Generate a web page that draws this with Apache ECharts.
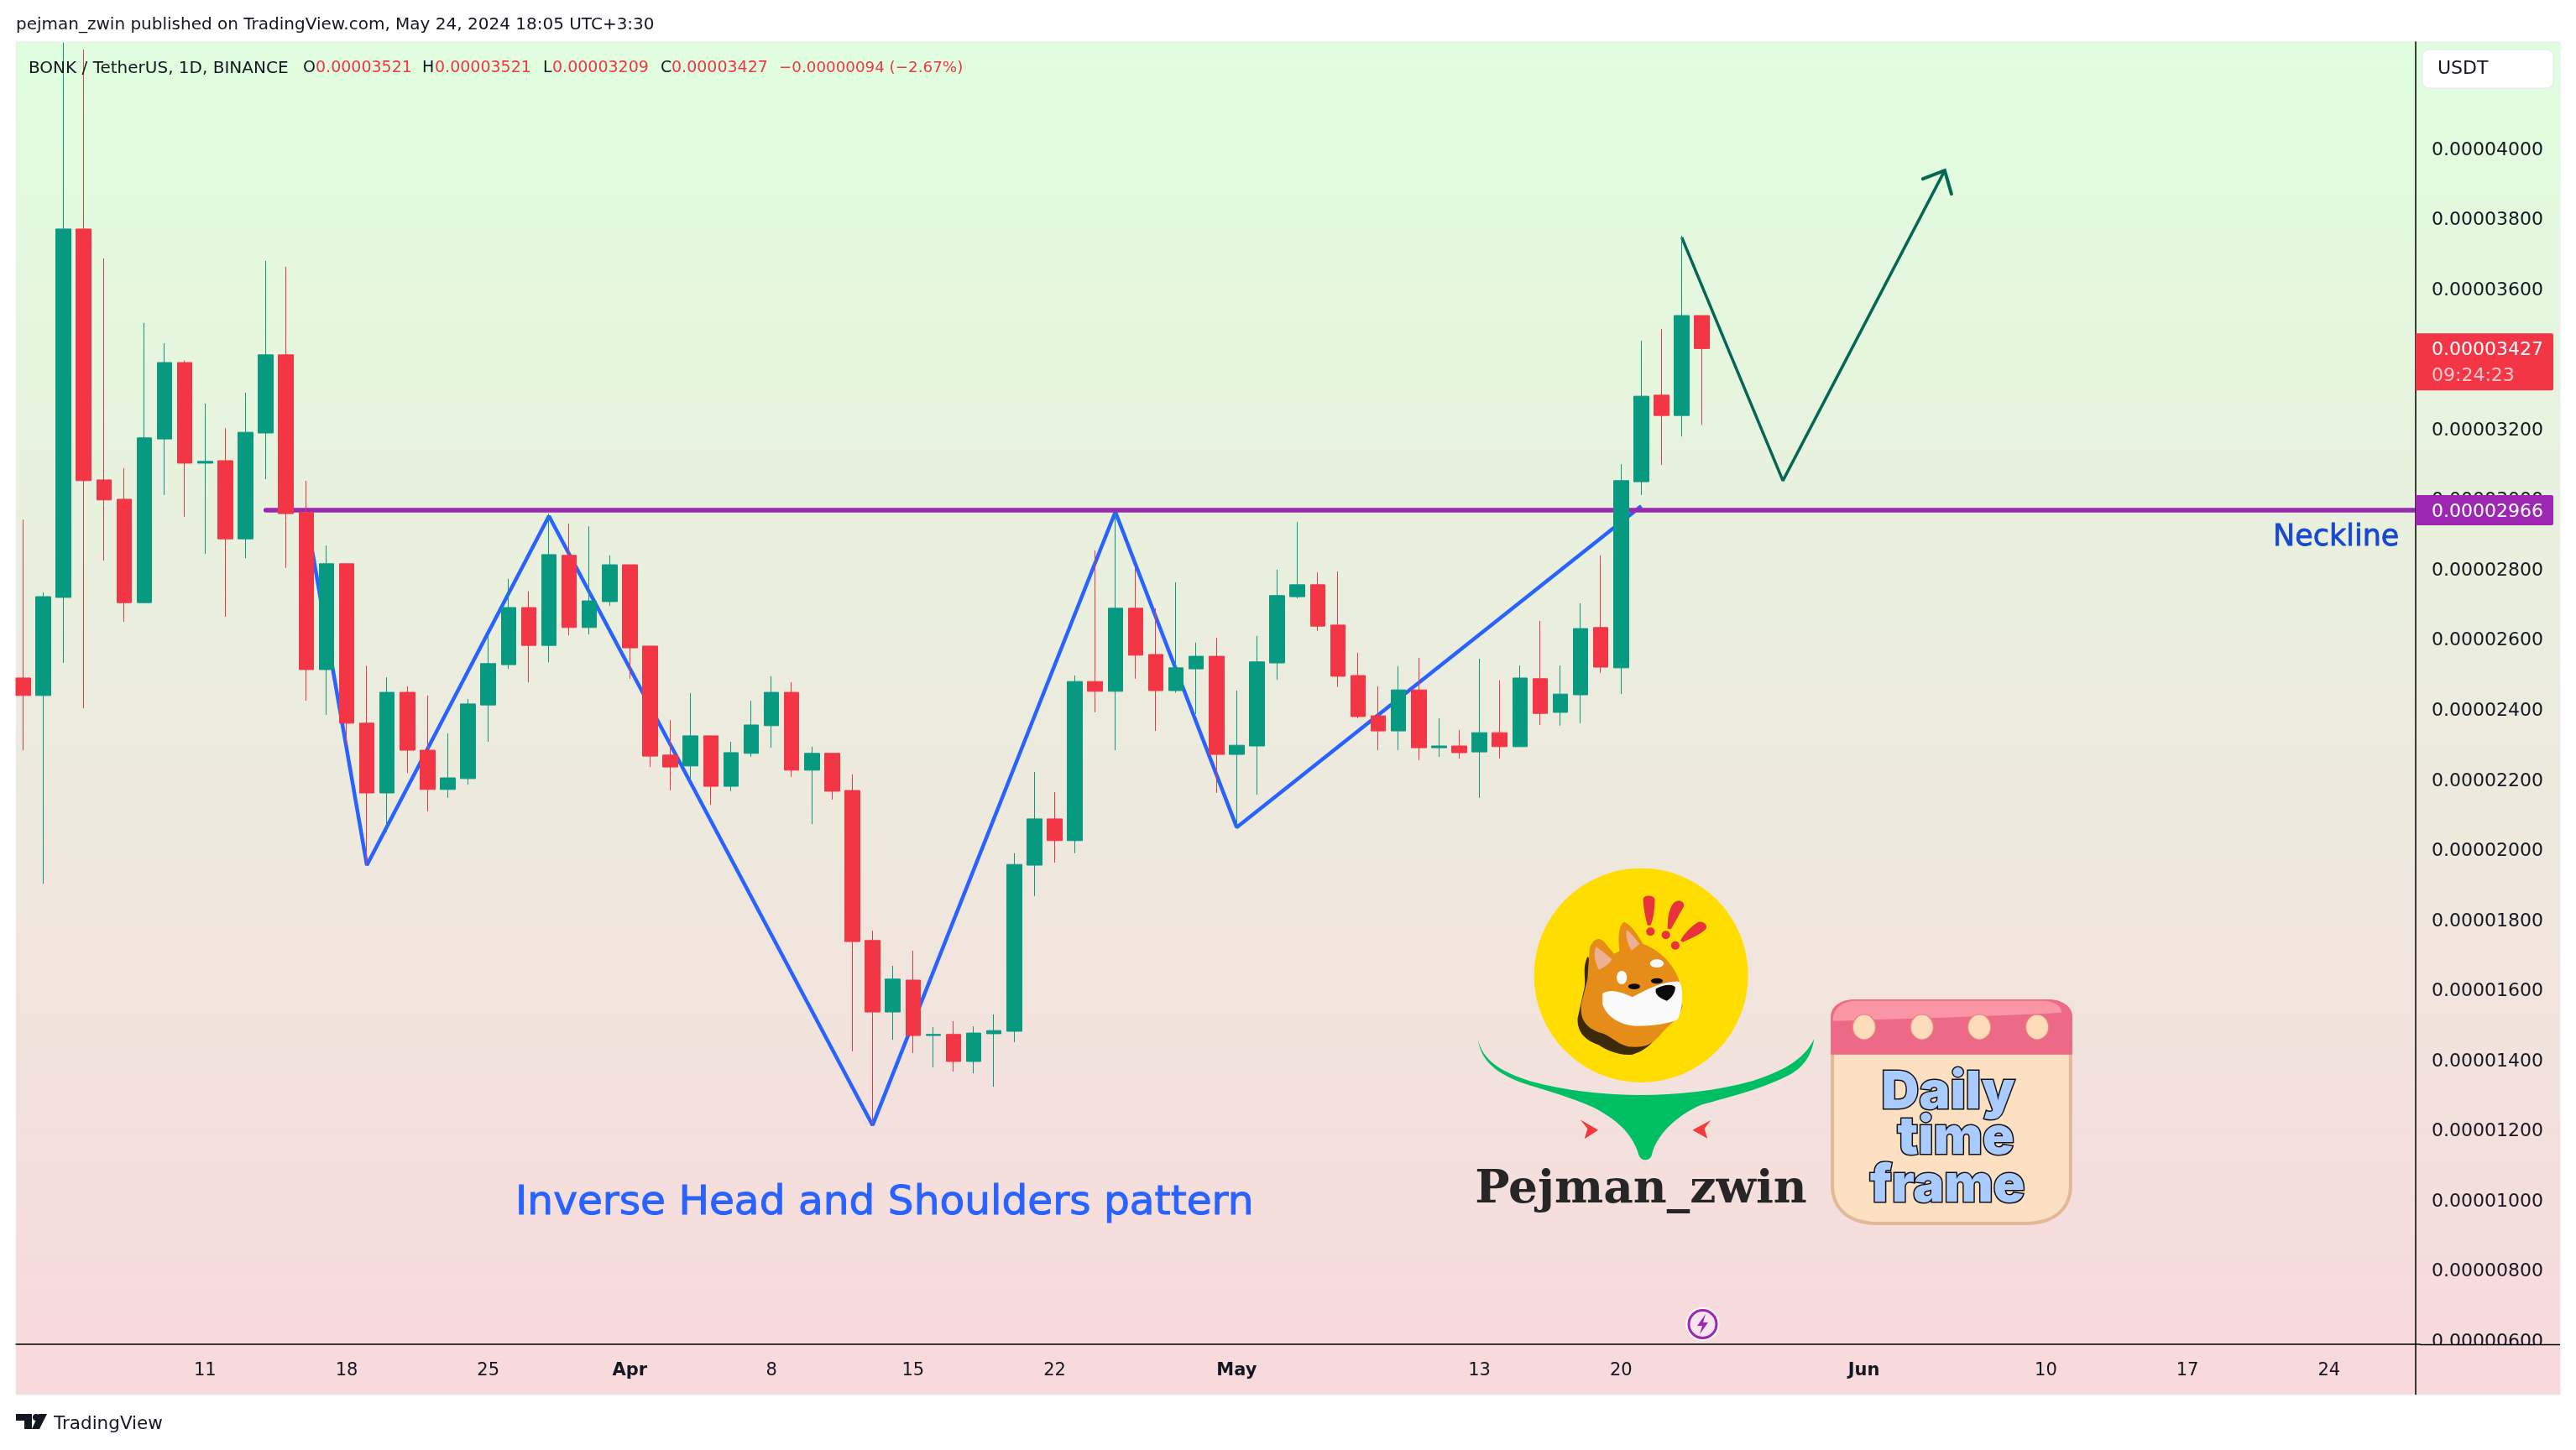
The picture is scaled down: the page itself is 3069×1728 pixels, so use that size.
<!DOCTYPE html>
<html><head><meta charset="utf-8">
<style>html,body{margin:0;padding:0;background:#fff}#c{width:3069px;height:1728px}</style>
<script src="https://cdn.jsdelivr.net/npm/echarts@6/dist/echarts.min.js"></script>
</head><body><div id="c"></div>
<script>
// All prices in units of 0.00000001 USDT
const opens  = [2487,2437,2717,3768,3052,2997,2702,3169,3387,3100,3107,2884,3186,3409,2959,2511,2813,2358,2159,2446,2281,2169,2200,2410,2525,2688,2580,2837,2631,2705,2810,2578,2267,2236,2322,2178,2272,2351,2446,2224,2272,2166,1738,1534,1625,1467,1470,1393,1472,1479,1953,2085,2023,2477,2449,2686,2554,2451,2513,2549,2269,2293,2530,2719,2753,2638,2494,2379,2336,2453,2288,2293,2276,2331,2291,2485,2389,2439,2631,2516,3047,3294,3236,3521];
const closes = [2437,2719,3768,3050,2995,2702,3172,3387,3100,3105,2884,3188,3409,2956,2511,2813,2358,2159,2446,2281,2169,2202,2413,2528,2688,2580,2839,2631,2707,2810,2573,2264,2233,2322,2178,2274,2353,2446,2224,2272,2164,1735,1534,1628,1467,1470,1393,1474,1481,1955,2085,2023,2477,2449,2686,2552,2451,2516,2549,2269,2295,2533,2722,2753,2635,2492,2377,2336,2453,2288,2293,2274,2331,2291,2487,2386,2441,2628,2518,3050,3291,3236,3521,3427];
const lows   = [2281,1900,2530,2401,2822,2647,2700,3009,2947,2841,2662,2829,3054,2801,2422,2382,2295,1955,2047,2216,2106,2145,2183,2305,2513,2475,2532,2609,2611,2693,2485,2233,2166,2195,2125,2164,2262,2288,2205,2070,2140,1422,1213,1455,1417,1376,1364,1359,1321,1448,1865,1960,1987,2389,2281,2485,2336,2445,2384,2159,2063,2154,2482,2714,2621,2461,2372,2281,2281,2252,2262,2257,2145,2257,2291,2353,2351,2358,2501,2441,3009,3095,3176,3209];
const highs  = [2939,2731,4300,4280,3684,3086,3500,3442,3393,3270,3200,3301,3677,3660,3050,2865,2813,2522,2489,2463,2437,2329,2427,2609,2770,2734,2956,2927,2920,2837,2810,2578,2367,2444,2322,2305,2422,2492,2475,2291,2272,2212,1766,1666,1709,1491,1508,1493,1527,1987,2219,2161,2494,2851,2961,2801,2686,2760,2588,2602,2451,2607,2796,2932,2789,2791,2559,2463,2521,2544,2372,2339,2542,2480,2523,2650,2523,2700,2837,3097,3449,3483,3749,3521];
const yTicks = [4000,3800,3600,3400,3200,3000,2800,2600,2400,2200,2000,1800,1600,1400,1200,1000,800,600];
const xTickLabels = {'03-11':'11','03-18':'18','03-25':'25','04-01':'{b|Apr}','04-08':'8','04-15':'15','04-22':'22','05-01':'{b|May}','05-13':'13','05-20':'20','06-01':'{b|Jun}','06-10':'10','06-17':'17','06-24':'24'};
const shouldersPath = [[14,2949],[17,1953],[26,2949],[42,1211],[54,2961],[60,2061],[80,2978]];
const projectionPath = [[82,3744],[87,3050],[95,3935]];
const necklinePrice = 2966, necklineStart = 12;
const lastPrice = 3427, lastPriceTimer = '09:24:23';

const monthDays = [['03',2,31],['04',1,30],['05',1,31],['06',1,30]];
const categories = [];
monthDays.forEach(([m,a,b])=>{for(let d=a;d<=b&&categories.length<119;d++)categories.push(m+'-'+String(d).padStart(2,'0'));});
const ohlc = opens.map((o,i)=>[o,closes[i],lows[i],highs[i]]);
const fmtPrice = v => '0.' + String(Math.round(v)).padStart(8,'0');

const FONT = '"DejaVu Sans"';
const GREEN='#089981', RED='#f23645', BLUE='#2962ff', PURPLE='#9c27b0', INK='#131722', ARROW='#056656';
const BAND=24.1, GRID_L=15.35, GRID_T=50, GRID_H=1552, GRID_W=BAND*119, AXIS_X=2878, PANEL_R=3050, PANEL_B=1662, AXIS_Y=1602;

function txt(text,x,y,size,fill,boost){return {type:'text',z:60,style:{text,x,y,fill,font:`${size}px ${FONT}`,align:'left',verticalAlign:'middle',stroke:boost?fill:null,lineWidth:boost||0}};}
function ln(x1,y1,x2,y2,z){return {type:'line',z,shape:{x1,y1,x2,y2},style:{stroke:'#000',lineWidth:1.5}};}
function pth(d,fill,stroke,lw){return {type:'path',shape:{pathData:d},style:{fill,stroke:stroke||null,lineWidth:lw||0}};}
function ell(cx,cy,rx,ry,fill,stroke,lw){return pth(`M${cx-rx} ${cy}A${rx} ${ry} 0 1 1 ${cx+rx} ${cy}A${rx} ${ry} 0 1 1 ${cx-rx} ${cy}Z`,fill,stroke,lw);}

// artwork, painted in list order in a local coordinate frame
const logoParts = [
 ell(500,487,250,383,'#ffdd00'),
 pth('M119 715C125 780 150 830 220 870C280 900 340 925 390 960C440 1000 480 1050 495 1130C500 1152 520 1152 525 1130C535 1060 580 990 640 950C700 925 790 890 850 840C885 810 900 760 904 715C880 790 830 830 760 865C680 900 580 915 500 915C420 915 320 900 240 865C170 830 130 790 119 715Z','#00bf63'),
 pth('M358 1003L400 1040L368 1072L375 1035Z','#f23a3a'),
 pth('M663 1005L620 1040L655 1070L648 1035Z','#f23a3a'),
 pth('M375 420C362 460 372 500 368 530L352 640C350 690 370 720 400 735C420 755 450 775 480 770C505 760 525 735 540 700Z','#3d2a0a'),
 pth('M380 390C390 350 405 350 415 370L437 410L450 400C445 340 450 300 462 297C480 310 495 350 505 375C540 395 575 440 590 510L597 600C590 640 560 670 545 700C520 745 500 745 470 742C440 730 430 700 400 690C365 670 355 630 362 580L375 500Z','#e68c18'),
 pth('M395 385C405 395 425 420 432 430C425 450 410 460 402 468C392 440 388 410 395 385Z','#edb094'),
 pth('M467 325C480 340 490 365 497 375L478 398C468 375 463 345 467 325Z','#edb094'),
 pth('M410 552C430 535 450 545 480 565C520 530 560 505 590 510C600 540 598 610 585 645C565 660 530 668 490 668C450 665 420 635 410 590Z','#fafafa'),
 pth('M535 535C550 520 575 515 580 530C580 550 570 570 560 578C545 570 530 555 535 535Z','#0b0b0b'),
 ell(484,527,14,10,'#0b0b0b'), ell(537,507,14,10,'#0b0b0b'),
 ell(537,445,16,15,'#fafafa'), ell(455,495,12,24,'#fafafa'),
 pth('M505 215C505 198 530 198 532 215C532 250 528 290 522 308L515 308C510 280 505 240 505 215Z','#e8323c'),
 ell(522,331,10,15,'#e8323c'),
 pth('M575 230C585 212 602 222 600 240L570 322L562 320C562 280 565 250 575 230Z','#e8323c'),
 ell(558,343,10,15,'#e8323c'),
 pth('M630 300C640 288 657 303 652 320C640 340 610 360 597 368L592 362C600 340 615 315 630 300Z','#e8323c'),
 ell(580,380,10,15,'#e8323c'),
 // calendar
 pth('M1000 573H1450C1485 573 1507 600 1507 635V1240C1507 1320 1470 1380 1400 1380H1050C980 1380 943 1320 943 1240V635C943 600 965 573 1000 573Z','#e2b998'),
 pth('M951 770H1499V1240C1499 1315 1465 1368 1398 1368H1052C985 1368 951 1315 951 1240Z','#fde0c2'),
 pth('M1000 573H1450C1485 573 1507 600 1507 635V770H943V635C943 600 965 573 1000 573Z','#ec6a88'),
 pth('M1000 578H1440C1465 578 1482 598 1482 620C1300 635 1150 640 948 650C948 605 970 578 1000 578Z','#f995a5'),
 ell(1021,672,27,45,'#fddcbb','#ee7f7a',3), ell(1156,672,27,45,'#fddcbb','#ee7f7a',3),
 ell(1290,672,27,45,'#fddcbb','#ee7f7a',3), ell(1425,672,27,45,'#fddcbb','#ee7f7a',3)
];
const screenParts = [
 pth('M19 1685H38V1703H29V1693H19Z',INK),
 {type:'circle',shape:{cx:43,cy:1689,r:4},style:{fill:INK}},
 pth('M46 1685H56L47 1703H38Z',INK),
 {type:'circle',shape:{cx:2028.5,cy:1578,r:19},style:{fill:'#f8e4ec',stroke:'#fff',lineWidth:2}},
 {type:'circle',shape:{cx:2028.5,cy:1578,r:16.5},style:{fill:'none',stroke:PURPLE,lineWidth:3}},
 pth('M2032 1566L2022 1580H2028L2025 1590L2035 1576H2029Z',PURPLE)
];
const calStyle=(t,x,y)=>({type:'text',z:70,style:{text:t,x,y,fill:'#a9cbff',stroke:'#111',lineWidth:3,font:'900 62px "Inter"',align:'center',verticalAlign:'middle'}});

const graphics = [
 {type:'rect',z:-1,shape:{x:19,y:GRID_T,width:PANEL_R-19,height:PANEL_B-GRID_T},style:{fill:{type:'linear',x:0,y:0,x2:0,y2:1,colorStops:[{offset:0,color:'#e0fedf'},{offset:1,color:'#f8d9dc'}]},stroke:'#ecedf0',lineWidth:1}},
 {type:'rect',z:100,shape:{x:19,y:AXIS_Y+1,width:PANEL_R-19,height:PANEL_B-AXIS_Y-2},style:{fill:'#f8d9dc'}},
 {type:'rect',z:300,shape:{x:0,y:0,width:18.5,height:1728},style:{fill:'#fff'}},
 ln(AXIS_X,AXIS_Y,AXIS_X,PANEL_B,250),
 ln(GRID_L+GRID_W,AXIS_Y+0.5,PANEL_R,AXIS_Y+0.5,250),
 txt('pejman_zwin published on TradingView.com, May 24, 2024 18:05 UTC+3:30',19,30,20,INK),
 txt('BONK / TetherUS, 1D, BINANCE',34,81.5,20,INK),
 txt('O',361,81.5,19,INK),txt('0.00003521',376,81.5,19,RED),
 txt('H',503,81.5,19,INK),txt('0.00003521',518,81.5,19,RED),
 txt('L',647,81.5,19,INK),txt('0.00003209',658,81.5,19,RED),
 txt('C',787,81.5,19,INK),txt('0.00003427',800,81.5,19,RED),
 txt('\u22120.00000094 (\u22122.67%)',928,81.5,18.3,RED),
 txt('Neckline',2708,641,35,'#1848cc',0.8),
 txt('Inverse Head and Shoulders pattern',614,1434,48.6,BLUE,1),
 {type:'rect',z:60,shape:{x:2886,y:59,width:156,height:46,r:8},style:{fill:'#fff',stroke:'#e6e8ee',lineWidth:1}},
 txt('USDT',2904,82.5,22,INK),
 txt('TradingView',64,1697,21.5,INK),
 {type:'text',z:70,style:{text:'Pejman_zwin',x:1955,y:1419,fill:'#262626',font:'bold 55px "DejaVu Serif"',align:'center',verticalAlign:'middle'}},
 calStyle('Daily',2321,1302), calStyle('time',2330,1356), calStyle('frame',2320,1413)
];

const chart = echarts.init(document.getElementById('c'),null,{renderer:'canvas',width:3069,height:1728});
chart.setOption({
 animation:false, backgroundColor:'#fff',
 graphic:{elements:graphics},
 grid:{left:GRID_L,top:GRID_T,width:GRID_W,height:GRID_H,containLabel:false},
 xAxis:{type:'category',data:categories,boundaryGap:true,z:200,
  axisLine:{lineStyle:{color:'#000',width:1.5}},axisTick:{show:false},splitLine:{show:false},
  axisLabel:{interval:(i,v)=>xTickLabels[v]!==undefined,formatter:v=>xTickLabels[v]||'',color:INK,fontFamily:FONT,fontSize:21,margin:21,
   rich:{b:{fontWeight:'bold',fontFamily:FONT,fontSize:21,color:INK}}}},
 yAxis:{type:'value',position:'right',offset:AXIS_X-(GRID_L+GRID_W),min:586,max:4301.7,z:2,scale:true,
  axisLine:{show:true,lineStyle:{color:'#000',width:1.5}},axisTick:{show:false},splitLine:{show:false},
  axisLabel:{customValues:yTicks,formatter:fmtPrice,color:INK,fontFamily:FONT,fontSize:22,margin:19,align:'left',verticalAlign:'top',padding:[-8,0,0,0]}},
 series:[
  {type:'line',name:'Inverse H&S',data:shouldersPath,symbol:'none',z:1,lineStyle:{color:BLUE,width:4.5}},
  {type:'line',name:'Projection',data:projectionPath,symbol:'none',z:1,lineStyle:{color:ARROW,width:3.5}},
  {type:'candlestick',name:'BONKUSDT',data:ohlc,barWidth:18,z:3,
   itemStyle:{color:GREEN,color0:RED,borderColor:GREEN,borderColor0:RED,borderWidth:1}},
  {type:'custom',name:'Neckline',z:2,data:[[necklineStart,necklinePrice]],
   renderItem(p,api){const a=api.coord([api.value(0),api.value(1)]);
    return {type:'line',shape:{x1:a[0],y1:a[1],x2:p.coordSys.x+p.coordSys.width+(AXIS_X-(GRID_L+GRID_W)),y2:a[1]},style:{stroke:PURPLE,lineWidth:5.5,lineCap:'round'}};}},
  {type:'custom',name:'ArrowHead',z:4,data:[projectionPath[projectionPath.length-1]],
   renderItem(p,api){const a=api.coord([api.value(0),api.value(1)]);
    return {type:'polyline',shape:{points:[[a[0]-26,a[1]+10],a,[a[0]+8,a[1]+28]]},style:{fill:'none',stroke:ARROW,lineWidth:4,lineCap:'round'}};}},
  {type:'custom',name:'PriceTags',z:150,data:[[0,necklinePrice],[0,lastPrice]],
   renderItem(p,api){const v=api.value(1),y=api.coord([0,v])[1],last=v===lastPrice,X=AXIS_X;
    const kids=[{type:'rect',shape:{x:X,y:y-18,width:164,height:last?68:36,r:[0,2,2,0]},style:{fill:last?RED:PURPLE}},
     {type:'text',style:{text:fmtPrice(v),x:X+19,y:y+2,fill:'#fff',font:`22px ${FONT}`,align:'left',verticalAlign:'middle'}}];
    if(last)kids.push({type:'text',style:{text:lastPriceTimer,x:X+19,y:y+33,fill:'#fcc8ce',font:`22px ${FONT}`,align:'left',verticalAlign:'middle'}});
    return {type:'group',children:kids};}},
  {type:'custom',name:'Artwork',z:60,silent:true,data:[[0,0]],
   renderItem(){return {type:'group',children:[
     {type:'group',x:1700,y:1000,scaleX:1/1.96,scaleY:1/3,children:logoParts},
     {type:'group',children:screenParts}]};}}
 ]
});
</script></body></html>
